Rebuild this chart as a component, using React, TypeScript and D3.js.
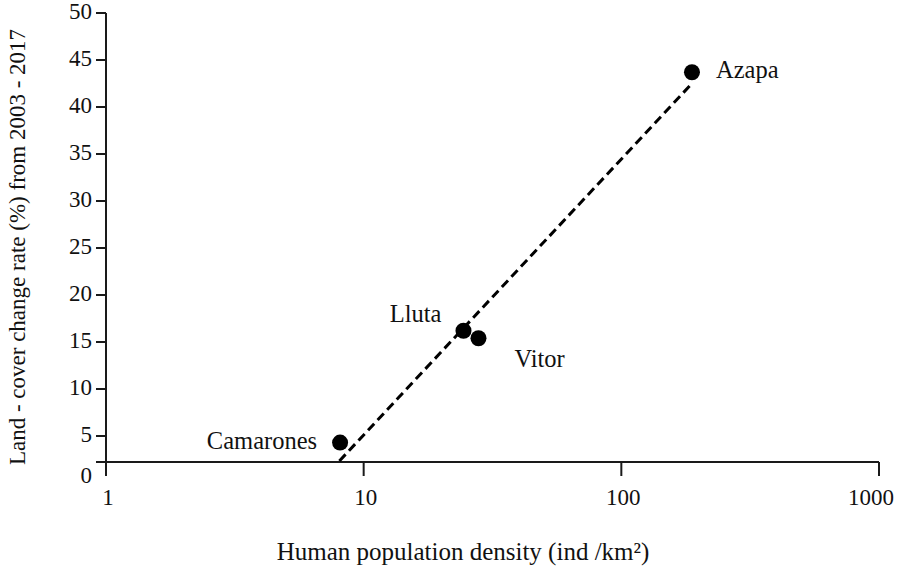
import React from "react";
import * as d3 from "d3";

const sites = ["Camarones", "Lluta", "Vitor", "Azapa"];
const density = [8.1, 24.4, 27.9, 188];
const changeRate = [4.3, 16.2, 15.4, 43.7];
const labelOffsets = [
  [-23, 6, "end"],
  [-22, -9, "end"],
  [36, 29, "start"],
  [24, 6, "start"],
];
const xTicks = [1, 10, 100, 1000];
const yTicks = [5, 10, 15, 20, 25, 30, 35, 40, 45, 50];
const yZeroLabel = [0];
const fitDomain = [8.05, 188];

const W = 900;
const H = 570;
const FONT = "Liberation Serif, Times New Roman, serif";

export default function App() {
  const x = d3.scaleLog().domain([1, 1000]).range([106, 879]);
  const y = d3.scaleLinear().domain([0, 50]).range([483, 13]);
  const axisY = 462;

  // least-squares fit on log10(x)
  const lx = density.map((d) => Math.log10(d));
  const mx = d3.mean(lx) as number;
  const my = d3.mean(changeRate) as number;
  let sxy = 0;
  let sxx = 0;
  lx.forEach((v, i) => {
    sxy += (v - mx) * (changeRate[i] - my);
    sxx += (v - mx) * (v - mx);
  });
  const b = sxy / sxx;
  const a = my - b * mx;
  const fitPts = fitDomain.map((d) => [d, a + b * Math.log10(d)] as [number, number]);
  const line = d3
    .line<[number, number]>()
    .x((d) => x(d[0]))
    .y((d) => y(d[1]));

  const stroke = "#1a1a1a";
  const ts = { fontFamily: FONT };

  return (
    <svg width={W} height={H} style={{ position: "absolute", left: 0, top: 0, background: "#fff" }}>
      <rect x={0} y={0} width={W} height={H} fill="#fff" />
      {/* y axis */}
      <line x1={106} x2={106} y1={y(50)} y2={axisY} stroke={stroke} strokeWidth={2} />
      {yTicks.map((t) => (
        <g key={t}>
          <line x1={96} x2={106} y1={y(t)} y2={y(t)} stroke={stroke} strokeWidth={2} />
          <text x={92} y={y(t) + 6} textAnchor="end" style={ts} fontSize={23} fill="#111">
            {t}
          </text>
        </g>
      ))}
      {yZeroLabel.map((t) => (
        <text key={t} x={92} y={y(t)} textAnchor="end" style={ts} fontSize={23} fill="#111">
          {t}
        </text>
      ))}
      {/* x axis */}
      <line x1={96} x2={879} y1={axisY} y2={axisY} stroke={stroke} strokeWidth={2} />
      {xTicks.map((t, i) => {
        const last = i === xTicks.length - 1;
        return (
          <g key={t}>
            <line x1={x(t)} x2={x(t)} y1={axisY} y2={axisY + 14} stroke={stroke} strokeWidth={2} />
            <text
              x={last ? x(t) + 15 : x(t) + 2}
              y={505}
              textAnchor={last ? "end" : "middle"}
              style={ts}
              fontSize={23}
              fill="#111"
            >
              {t}
            </text>
          </g>
        );
      })}
      {/* fit line */}
      <path
        d={line(fitPts) || ""}
        fill="none"
        stroke="#000"
        strokeWidth={3}
        strokeDasharray="9 5"
      />
      {/* points */}
      {sites.map((s, i) => (
        <g key={s}>
          <circle cx={x(density[i])} cy={y(changeRate[i])} r={8} fill="#000" />
          <text
            x={x(density[i]) + (labelOffsets[i][0] as number)}
            y={y(changeRate[i]) + (labelOffsets[i][1] as number)}
            textAnchor={labelOffsets[i][2] as string}
            style={ts}
            fontSize={24.5}
            fill="#111"
          >
            {s}
          </text>
        </g>
      ))}
      {/* titles */}
      <text
        transform={`translate(25,${247}) rotate(-90)`}
        textAnchor="middle"
        style={ts}
        fontSize={23}
        fill="#111"
      >
        Land - cover change rate (%) from 2003 - 2017
      </text>
      <text x={463} y={560} textAnchor="middle" style={ts} fontSize={25} fill="#111">
        Human population density (ind /km²)
      </text>
    </svg>
  );
}
